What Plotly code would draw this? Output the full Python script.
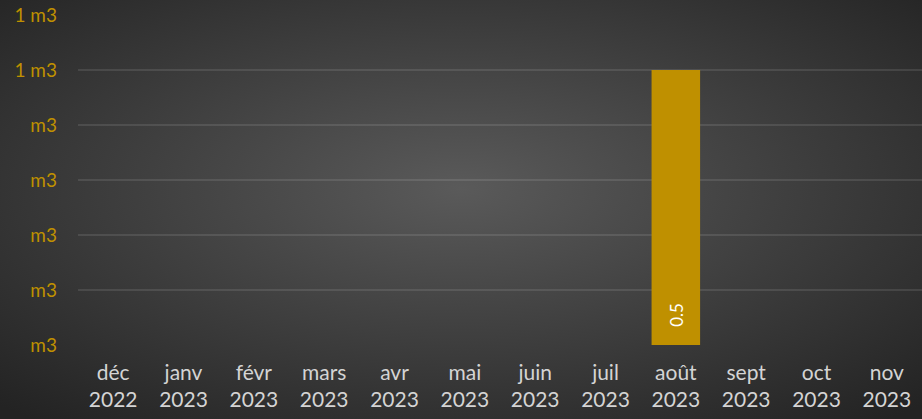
import base64
import plotly.graph_objects as go

months = ["déc<br>2022", "janv<br>2023", "févr<br>2023", "mars<br>2023", "avr<br>2023", "mai<br>2023",
          "juin<br>2023", "juil<br>2023", "août<br>2023", "sept<br>2023", "oct<br>2023", "nov<br>2023"]
values = [None, None, None, None, None, None, None, None, 0.5, None, None, None]
bar_labels = ["", "", "", "", "", "", "", "", "0.5", "", "", ""]
y_tick_vals = [0, 0.1, 0.2, 0.3, 0.4, 0.5, 0.6]
y_tick_text = ["m3", "m3", "m3", "m3", "m3", "1 m3", "1 m3"]

svg = ('<svg xmlns="http://www.w3.org/2000/svg" width="922" height="419" viewBox="0 0 922 419" preserveAspectRatio="none">'
       '<defs><radialGradient id="g" cx="50%" cy="45%" r="72%">'
       '<stop offset="0%" stop-color="#5a5a5a"/><stop offset="100%" stop-color="#232323"/>'
       '</radialGradient></defs><rect width="922" height="419" fill="url(#g)"/></svg>')
src = "data:image/svg+xml;base64," + base64.b64encode(svg.encode()).decode()

L, R, T, B = 78, 0, 15, 74
PW, PH = 922 - L - R, 419 - T - B

fig = go.Figure()
fig.add_trace(go.Bar(x=months, y=values, marker_color="#BF9000", marker_line_width=0, width=0.69))

for m, v, lab in zip(months, values, bar_labels):
    if v is not None and lab:
        fig.add_annotation(x=m, y=0, text=lab, textangle=-90, showarrow=False,
                           yanchor="bottom", yshift=16,
                           font=dict(color="white", size=17, family="Lato"))

fig.update_layout(
    width=922, height=419,
    margin=dict(l=L, r=R, t=T, b=B),
    paper_bgcolor="#3a3a3a", plot_bgcolor="rgba(0,0,0,0)",
    showlegend=False,
    font=dict(family="Lato"),
    images=[dict(source=src, xref="paper", yref="paper", x=-L / PW, y=1 + T / PH,
                 sizex=922 / PW, sizey=419 / PH, sizing="stretch", layer="below",
                 xanchor="left", yanchor="top")],
    xaxis=dict(showgrid=False, showline=False, ticks="", ticklabelstandoff=13,
               tickfont=dict(color="#d4d4d4", size=21, family="Lato")),
    yaxis=dict(range=[0, 0.6], tickvals=y_tick_vals, ticktext=y_tick_text,
               gridcolor="rgba(255,255,255,0.1)", gridwidth=1.5, zeroline=False, showline=False,
               ticks="", ticklabelstandoff=20,
               tickfont=dict(color="#BF9000", size=19, family="Lato")),
)

fig.write_html("out.html", config={"displayModeBar": False},
               post_script="document.body.style.margin='0';document.body.style.overflow='hidden';")
